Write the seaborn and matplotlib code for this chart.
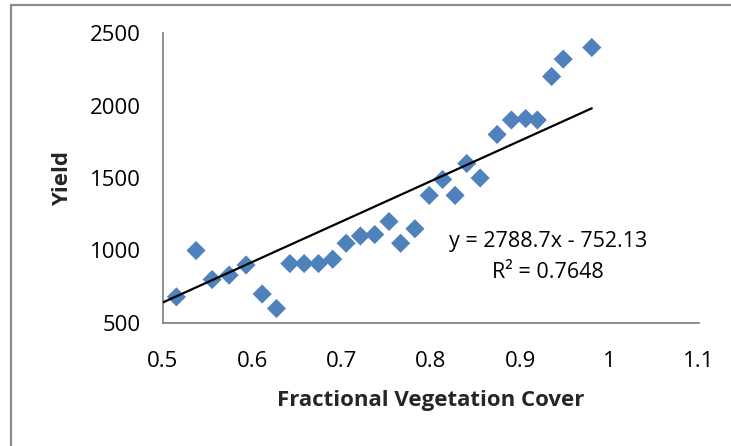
import numpy as np
import pandas as pd
import matplotlib
matplotlib.use("Agg")
import matplotlib.pyplot as plt
import seaborn as sns
from matplotlib.lines import Line2D
from matplotlib.ticker import FuncFormatter

# --- Data ---
fvc = [0.515, 0.537, 0.555, 0.574, 0.593, 0.611, 0.627, 0.642, 0.658, 0.674,
       0.690, 0.705, 0.721, 0.737, 0.753, 0.766, 0.782, 0.798, 0.813, 0.827,
       0.840, 0.855, 0.874, 0.890, 0.906, 0.919, 0.935, 0.948, 0.980]
yield_vals = [680, 1000, 800, 830, 900, 700, 600, 910, 910, 910,
              940, 1050, 1100, 1110, 1200, 1050, 1150, 1380, 1490, 1380,
              1600, 1500, 1800, 1900, 1910, 1900, 2200, 2320, 2400]

# trendline as printed on the chart
slope = 2788.7
intercept = -752.13
r_squared = 0.7648

x_ticks = [0.5, 0.6, 0.7, 0.8, 0.9, 1.0, 1.1]
y_ticks = [500, 1000, 1500, 2000, 2500]

df = pd.DataFrame({"FVC": fvc, "Yield": yield_vals})

sns.set_style("white")
plt.rcParams["font.family"] = ["Open Sans", "DejaVu Sans"]
plt.rcParams["text.color"] = "black"

fig = plt.figure(figsize=(7.31, 4.46), dpi=100)
ax = fig.add_axes([163 / 731, 1 - 323 / 446, (699 - 163) / 731, (323 - 33) / 446])

sns.scatterplot(data=df, x="FVC", y="Yield", marker="D", s=95,
                color="#4F81BD", edgecolor="none", linewidth=0, ax=ax, zorder=2)

trend = pd.DataFrame({"FVC": [x_ticks[0], max(fvc)]})
trend["Yield"] = slope * trend["FVC"] + intercept
sns.lineplot(data=trend, x="FVC", y="Yield", color="black", linewidth=1.6, ax=ax, zorder=3)

ax.set_xlim(x_ticks[0], x_ticks[-1])
ax.set_ylim(y_ticks[0], y_ticks[-1])
ax.set_xticks(x_ticks)
ax.set_yticks(y_ticks)
ax.xaxis.set_major_formatter(FuncFormatter(lambda v, p: f"{v:g}"))

for side in ["top", "right"]:
    ax.spines[side].set_visible(False)
for side in ["left", "bottom"]:
    ax.spines[side].set_color("#878787")
    ax.spines[side].set_linewidth(1.3)

ax.tick_params(axis="both", direction="out", length=5, width=1.3, color="#878787",
               labelsize=16, labelcolor="black")
ax.tick_params(axis="x", pad=15)
ax.tick_params(axis="y", pad=11)

ax.set_xlabel("Fractional Vegetation Cover", fontsize=16, fontweight="bold", labelpad=13)
ax.set_ylabel("Yield", fontsize=16, fontweight="bold", labelpad=12)

# equation label, placed in axes fraction
ax.text((548 - 163) / 536, (323 - 242) / 290, f"y = {slope}x - {abs(intercept)}",
        transform=ax.transAxes, fontsize=15.5, ha="center", va="center")
ax.text((548 - 163) / 536, (323 - 273) / 290, f"R\u00b2 = {r_squared}",
        transform=ax.transAxes, fontsize=15.5, ha="center", va="center")

# chart area border (left and top visible in the reference)
fig.add_artist(Line2D([11 / 731, 11 / 731], [0, 1 - 5 / 446], transform=fig.transFigure,
                      color="#8c8c8c", linewidth=1.6))
fig.add_artist(Line2D([11 / 731, 1], [1 - 5 / 446, 1 - 5 / 446], transform=fig.transFigure,
                      color="#8c8c8c", linewidth=1.6))

fig.savefig("out.png", dpi=100)
